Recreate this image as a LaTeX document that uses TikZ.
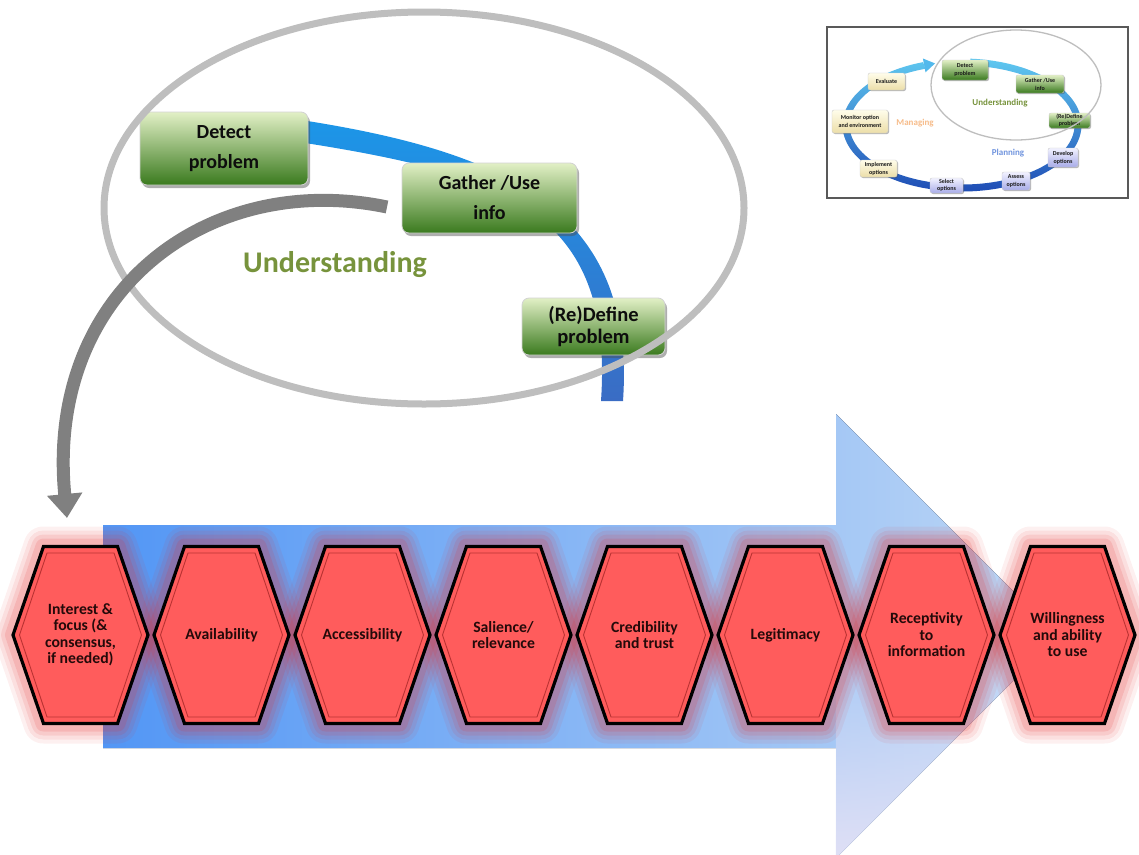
\documentclass[tikz,border=0pt]{standalone}
\usepackage{fontspec}
\setmainfont{Carlito}
\usetikzlibrary{arrows.meta,shadows,fadings,calc}

\definecolor{boxtop}{RGB}{226,240,198}
\definecolor{boxmid}{RGB}{148,198,92}
\definecolor{boxbot}{RGB}{58,122,30}
\definecolor{creamtop}{RGB}{255,253,235}
\definecolor{creambot}{RGB}{236,222,168}
\definecolor{liltop}{RGB}{242,242,255}
\definecolor{lilbot}{RGB}{168,172,232}
\definecolor{bandtop}{RGB}{28,150,232}
\definecolor{bandmid}{RGB}{48,182,224}
\definecolor{bandbot}{RGB}{58,108,196}
\definecolor{ringtop}{RGB}{95,200,240}
\definecolor{ringmid}{RGB}{55,150,225}
\definecolor{ringbot}{RGB}{30,75,180}
\definecolor{hexfill}{RGB}{255,92,92}
\definecolor{hexglow}{RGB}{228,45,45}
\definecolor{hexbevel}{RGB}{185,50,50}
\definecolor{hextext}{RGB}{36,10,10}
\definecolor{ellgray}{RGB}{190,190,190}
\definecolor{arcgray}{RGB}{128,128,128}
\definecolor{undgreen}{RGB}{119,147,60}
\definecolor{mangorange}{RGB}{247,188,138}
\definecolor{planblue}{RGB}{112,148,222}
\definecolor{arrowleft}{RGB}{82,150,245}
\definecolor{arrowright}{RGB}{190,215,245}
\definecolor{arrowlav}{RGB}{224,224,245}

\tikzfading[name=fadeup, top color=transparent!100, bottom color=transparent!0]

% hexagon outlines around a centre x (all hexagons share the same row)
\newcommand{\hexoutline}[1]{(#1-67.5,635) -- (#1-37,546.5) -- (#1+37,546.5) -- (#1+67.5,635) -- (#1+37,723.5) -- (#1-37,723.5) -- cycle}
\newcommand{\hexinner}[1]{(#1-61,635) -- (#1-33.5,553) -- (#1+33.5,553) -- (#1+61,635) -- (#1+33.5,717) -- (#1-33.5,717) -- cycle}

\tikzset{
  stagebox/.style={rounded corners=7pt, top color=boxtop, middle color=boxmid, bottom color=boxbot,
    draw=white!65!gray, line width=0.8pt, align=center, inner sep=0pt, text=black!95,
    font=\fontsize{20}{30}\selectfont\bfseries,
    drop shadow={shadow xshift=2pt, shadow yshift=-3pt, opacity=0.45, fill=black!70}},
  hexlabel/.style={align=center, text=hextext, inner sep=0pt, font=\fontsize{15.7}{16.5}\selectfont\bfseries},
  minibox/.style={rounded corners=2pt, draw=white!60!gray, line width=0.4pt, align=center, inner sep=0pt,
    text=black!90, font=\fontsize{6}{8}\selectfont\bfseries,
    drop shadow={shadow xshift=1pt, shadow yshift=-1pt, opacity=0.4, fill=black!70}},
  minigreen/.style={minibox, top color=boxtop, middle color=boxmid, bottom color=boxbot},
  minicream/.style={minibox, top color=creamtop, bottom color=creambot},
  minililac/.style={minibox, top color=liltop, bottom color=lilbot},
  minilabel/.style={font=\fontsize{9}{10}\selectfont\bfseries, inner sep=0pt},
}

\begin{document}
\begin{tikzpicture}[x=1pt, y=-1pt]
\useasboundingbox (0,0) rectangle (1139,854);

% ---------- big process arrow ----------
\fill[left color=arrowleft, right color=arrowright]
  (103,525) -- (836,525) -- (836,414) -- (1058,636) -- (836,858) -- (836,748) -- (103,748) -- cycle;
\fill[arrowlav, path fading=fadeup] (836,636) -- (1058,636) -- (836,858) -- cycle;

% ---------- hexagon chain ----------
\foreach \x in {80.5,221.5,362.5,503.5,644.5,785.5,926.5,1067.5}{
  \foreach \w/\o in {40/0.07,32/0.09,24/0.11,16/0.14}{
    \draw[hexglow, line width=\w pt, draw opacity=\o, line join=round] \hexoutline{\x};
  }
}
\foreach \x in {80.5,221.5,362.5,503.5,644.5,785.5,926.5,1067.5}{
  \fill[hexfill] \hexoutline{\x};
  \draw[hexbevel, line width=0.9pt] \hexinner{\x};
  \draw[black, line width=3.2pt, line join=miter] \hexoutline{\x};
}
\node[hexlabel] (h1) at (80.5,635) {Interest \&\\focus (\&\\consensus,\\if needed)};
\node[hexlabel] (h2) at (221.5,635) {Availability};
\node[hexlabel] (h3) at (362.5,635) {Accessibility};
\node[hexlabel] (h4) at (503.5,635) {Salience/\\relevance};
\node[hexlabel] (h5) at (644.5,635) {Credibility\\and trust};
\node[hexlabel] (h6) at (785.5,635) {Legitimacy};
\node[hexlabel] (h7) at (926.5,635) {Receptivity\\to\\information};
\node[hexlabel] (h8) at (1067.5,635) {Willingness\\and ability\\to use};

% ---------- enlarged "Understanding" stage ----------
\shade[top color=bandtop, middle color=bandmid, bottom color=bandbot]
  (301.7,120.1) .. controls (506.7,152.1) and (636,210.7) .. (623,401)
  -- (601,401) .. controls (614,209.3) and (503.3,173.9) .. (298.3,141.9) -- cycle;

\node[stagebox, minimum width=168pt, minimum height=73pt] (detect) at (224,148.5) {Detect\\problem};
\node[stagebox, minimum width=175pt, minimum height=70pt] (gather) at (489.5,198) {Gather /Use\\info};
\node[stagebox, minimum width=143pt, minimum height=57pt, font=\fontsize{20.5}{22}\selectfont\bfseries]
  (redefine) at (593.5,326.5) {(Re)Define\\problem};

\draw[ellgray, line width=7pt] (424,208) ellipse[x radius=320, y radius=196];

\node[font=\fontsize{30}{31}\selectfont\bfseries, text=undgreen, inner sep=0pt] (und) at (335,265) {Understanding};

% zoom connector from the stage to the first factor
\coordinate (arcstart) at (387,207);
\coordinate (arcend) at (67,518);
\draw[arcgray, line width=13pt, -{Triangle[length=24pt,width=34pt]}]
  (arcstart) .. controls (210,170) and (45,290) .. (arcend);

% ---------- overview cycle (inset) ----------
\draw[black!65, line width=1.2pt, fill=white] (827,27) rectangle (1128,198);
\coordinate (rc) at (962,125);
\shade[top color=ringtop, middle color=ringmid, bottom color=ringbot]
  ($(rc)+(274:119.5 and 66.5)$) arc[start angle=274, end angle=611, x radius=119.5, y radius=66.5]
  -- ($(rc)+(611:112.5 and 59.5)$) arc[start angle=611, end angle=274, x radius=112.5, y radius=59.5] -- cycle;
\fill[ringtop!70!ringmid] (925.5,72.3) -- (935,63.4) -- (922.9,58.5) -- cycle;

\node[minigreen, minimum width=46pt, minimum height=20pt] (idetect) at (965,70) {Detect\\problem};
\node[minigreen, minimum width=48pt, minimum height=18pt] (igather) at (1040,84) {Gather /Use\\info};
\node[minigreen, minimum width=41pt, minimum height=15pt, font=\fontsize{6}{7}\selectfont\bfseries] (iredef) at (1069.5,120.5) {(Re)Define\\problem};
\node[minililac, minimum width=30pt, minimum height=19pt] (idevelop) at (1063,157.5) {Develop\\options};
\node[minililac, minimum width=28pt, minimum height=18pt] (iassess) at (1016,181) {Assess\\options};
\node[minililac, minimum width=33pt, minimum height=15pt, font=\fontsize{6}{7}\selectfont\bfseries] (iselect) at (946.5,185.5) {Select\\options};
\node[minicream, minimum width=37pt, minimum height=17pt] (iimplement) at (878.5,168.5) {Implement\\options};
\node[minicream, minimum width=56pt, minimum height=23pt] (imonitor) at (860,121.5) {Monitor option\\and environment};
\node[minicream, minimum width=37pt, minimum height=17pt] (ievaluate) at (886.5,81.5) {Evaluate};

\draw[ellgray, line width=1.3pt] (1016,85) ellipse[x radius=85, y radius=55];

\node[minilabel, text=undgreen] (iund) at (1000,103) {Understanding};
\node[minilabel, text=mangorange] (iman) at (915,123) {Managing};
\node[minilabel, text=planblue] (iplan) at (1008,153) {Planning};
\end{tikzpicture}
\end{document}
